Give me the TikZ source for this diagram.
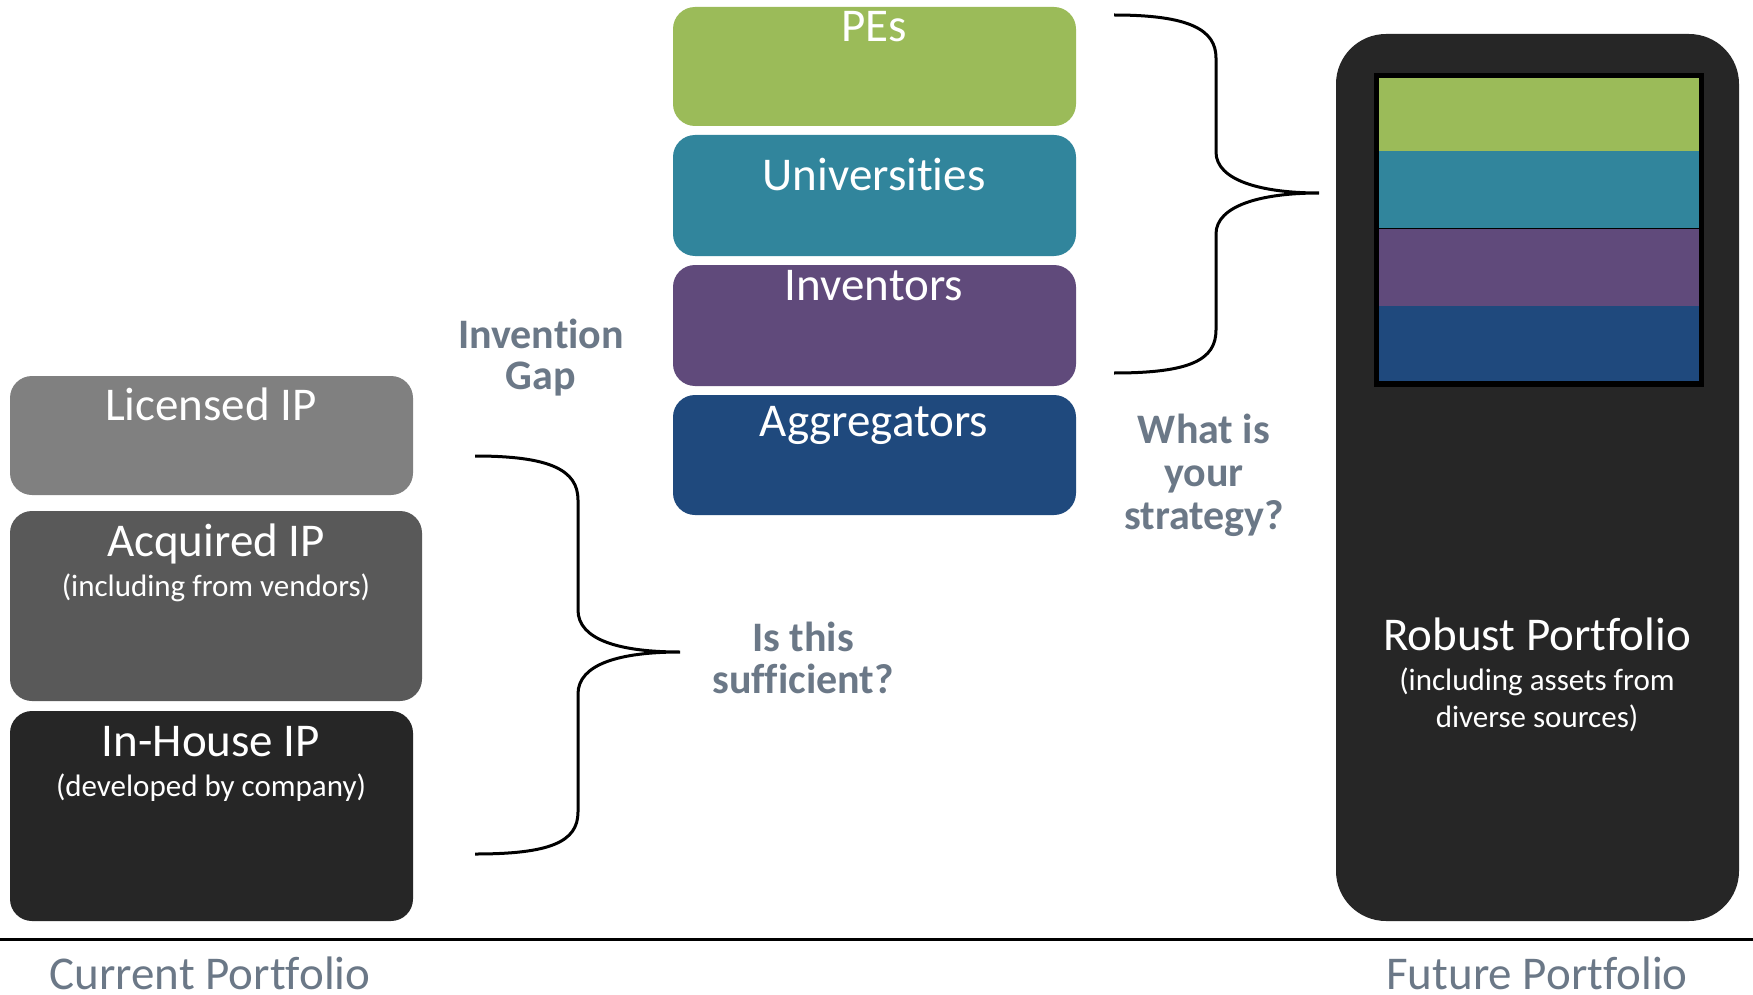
\documentclass[tikz,border=0pt]{standalone}
\usepackage{fontspec}
\setmainfont{Carlito}[Ligatures={NoCommon}, RawFeature={-liga;-clig}]
\definecolor{cgreen}{HTML}{9BBB59}
\definecolor{cteal}{HTML}{31859C}
\definecolor{cpurple}{HTML}{604A7B}
\definecolor{cnavy}{HTML}{1F497D}
\definecolor{cgrayA}{HTML}{808080}
\definecolor{cgrayB}{HTML}{595959}
\definecolor{cgrayC}{HTML}{262626}
\definecolor{askgray}{RGB}{107,120,135}
\begin{document}
\begin{tikzpicture}[x=1pt,y=-1pt,
  box/.style={rectangle, rounded corners=22pt, inner sep=0pt, draw=none},
  lbl/.style={text=white, anchor=base, inner sep=0pt, font=\fontsize{47}{56}\selectfont},
  sublbl/.style={text=white, anchor=base, inner sep=0pt, font=\fontsize{31}{37}\selectfont},
  ask/.style={text=askgray, anchor=base, inner sep=0pt, font=\bfseries\fontsize{42}{48}\selectfont},
  foot/.style={text=askgray, anchor=base, inner sep=0pt, font=\fontsize{47}{56}\selectfont},
  brace/.style={line width=3pt}]
\useasboundingbox (0,0) rectangle (1753,995);
\fill[white] (0,0) rectangle (1753,995);

% left column
\node[box, fill=cgrayA, minimum width=403pt, minimum height=119pt] (lic) at (211.5,435.5) {};
\node[box, fill=cgrayB, minimum width=412pt, minimum height=190pt] (acq) at (216,606) {};
\node[box, fill=cgrayC, minimum width=403pt, minimum height=210pt] (inh) at (211.5,816) {};
\node[lbl] (licT) at (211,420) {Licensed IP};
\node[lbl] (acqT) at (216,556) {Acquired IP};
\node[sublbl] (acqS) at (216,596) {(including from vendors)};
\node[lbl] (inhT) at (211,756) {In-House IP};
\node[sublbl] (inhS) at (211,796) {(developed by company)};

% middle column
\node[box, fill=cgreen, minimum width=403pt, minimum height=119pt] (pes) at (874.5,66.5) {};
\node[box, fill=cteal, minimum width=403pt, minimum height=121pt] (uni) at (874.5,195.5) {};
\node[box, fill=cpurple, minimum width=403pt, minimum height=121pt] (inv) at (874.5,325.5) {};
\node[box, fill=cnavy, minimum width=403pt, minimum height=120pt] (agg) at (874.5,455) {};
\node[lbl] (pesT) at (874,42) {PEs};
\node[lbl] (uniT) at (874,191) {Universities};
\node[lbl] (invT) at (874,300) {Inventors};
\node[lbl] (aggT) at (874,436) {Aggregators};

% questions
\node[ask] (gap1) at (541,348) {Invention};
\node[ask] (gap2) at (541,389) {Gap};
\node[ask] (suf1) at (803,651) {Is this};
\node[ask] (suf2) at (803,693) {sufficient?};
\node[ask] (str1) at (1204,443) {What is};
\node[ask] (str2) at (1204,486) {your};
\node[ask] (str3) at (1204,529) {strategy?};

% right: robust portfolio
\node[box, rounded corners=50pt, fill=cgrayC, minimum width=403pt, minimum height=887pt] (rob) at (1537.5,477.5) {};
\fill[black] (1374,73) rectangle (1704,387);
\fill[cgreen] (1379,78) rectangle (1699,151);
\fill[cteal] (1379,151) rectangle (1699,228);
\fill[cpurple] (1379,228) rectangle (1699,306);
\fill[cnavy] (1379,306) rectangle (1699,381);
\draw[black, line width=0.6pt] (1379,228) -- (1699,228);
\node[lbl] (robT) at (1537,650) {Robust Portfolio};
\node[sublbl] (robS1) at (1537,690) {(including assets from};
\node[sublbl] (robS2) at (1537,727) {diverse sources)};

% braces
\coordinate (b1top) at (475,456);
\coordinate (b1tip) at (680,652);
\coordinate (b1bot) at (475,854);
\draw[brace] (b1top) .. controls (550,456) and (578,470) .. (578,500) -- (578,610)
  .. controls (578,640) and (620,652) .. (b1tip)
  .. controls (620,652) and (578,664) .. (578,694) -- (578,812)
  .. controls (578,842) and (550,854) .. (b1bot);
\coordinate (b2top) at (1114,15);
\coordinate (b2tip) at (1319,193);
\coordinate (b2bot) at (1114,373);
\draw[brace] (b2top) .. controls (1190,15) and (1216,30) .. (1216,58) -- (1216,152)
  .. controls (1216,180) and (1260,193) .. (b2tip)
  .. controls (1260,193) and (1216,206) .. (1216,234) -- (1216,330)
  .. controls (1216,360) and (1190,373) .. (b2bot);

% baseline
\coordinate (lineL) at (0,939);
\coordinate (lineR) at (1753,939);
\draw[line width=3pt] (lineL) -- (lineR);
\node[foot] (cur) at (210,989) {Current Portfolio};
\node[foot] (fut) at (1537,989) {Future Portfolio};
\end{tikzpicture}
\end{document}
